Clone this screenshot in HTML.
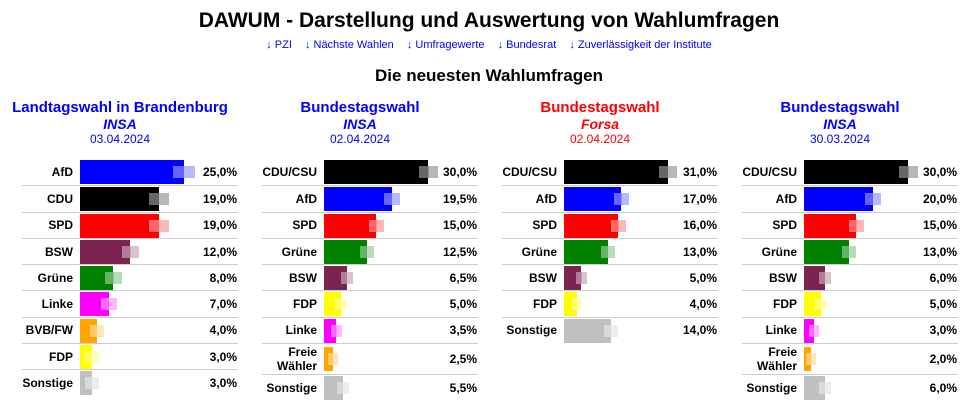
<!DOCTYPE html>
<html><head><meta charset="utf-8"><style>
body{margin:0;width:978px;height:412px;background:#fff;font-family:"Liberation Sans",Arial,sans-serif;position:relative;overflow:hidden}
.h1{position:absolute;top:9px;left:0;width:978px;text-align:center;font-weight:bold;font-size:21px;color:#000}
.lk{position:absolute;top:39px;left:0;width:978px;text-align:center;font-size:11px;color:#00f}
.lk span{margin:0 5px}
.h2{position:absolute;top:66px;left:0;width:978px;text-align:center;font-weight:bold;font-size:17px}
.p{position:absolute;top:99px;width:240px}
.t{text-align:center;font-weight:bold;font-size:15px;line-height:17px}
.i{text-align:center;font-weight:bold;font-style:italic;font-size:14px;line-height:16px}
.d{text-align:center;font-size:12px;line-height:14px}
.rows{position:absolute;top:60px;left:22px;width:216px}
.r{position:relative;height:25.3px;border-top:1px solid #ccc;font-weight:bold;font-size:12px}
.r:first-child{border-top:none;height:26.3px}
.r.tall{height:30px}
.l{position:absolute;right:161px;top:0;height:100%;display:flex;align-items:center;text-align:right;line-height:14px}
.b{position:absolute;left:var(--L);top:1px;height:24px;width:var(--w);background:var(--c)}
.tall .b{top:3px}
.o{position:absolute;left:calc(var(--L) + var(--w) - var(--o) / 2);width:var(--o);top:7px;height:12px;background:linear-gradient(90deg,rgba(255,255,255,.4) 50%,rgba(255,255,255,.72) 50%),var(--c)}
.tall .o{top:9px}
.v{position:absolute;right:1px;top:0;height:100%;display:flex;align-items:center}
.p1 .l{right:165px}
</style></head><body>
<div class="h1">DAWUM - Darstellung und Auswertung von Wahlumfragen</div>
<div class="lk"><span>↓ PZI</span> <span>↓ Nächste Wahlen</span> <span>↓ Umfragewerte</span> <span>↓ Bundesrat</span> <span>↓ Zuverlässigkeit der Institute</span></div>
<div class="h2">Die neuesten Wahlumfragen</div>

<div class="p p1" style="left:0;color:#00f">
<div class="t">Landtagswahl in Brandenburg</div><div class="i">INSA</div><div class="d">03.04.2024</div>
<div class="rows" style="color:#000;--L:58px">
<div class="r" style="--c:#00f;--w:104px;--o:22px"><span class="l">AfD</span><div class="b"></div><div class="o"></div><span class="v">25,0%</span></div>
<div class="r" style="--c:#000;--w:79px;--o:20px"><span class="l">CDU</span><div class="b"></div><div class="o"></div><span class="v">19,0%</span></div>
<div class="r" style="--c:#f00;--w:79px;--o:20px"><span class="l">SPD</span><div class="b"></div><div class="o"></div><span class="v">19,0%</span></div>
<div class="r" style="--c:#7b2450;--w:50px;--o:17px"><span class="l">BSW</span><div class="b"></div><div class="o"></div><span class="v">12,0%</span></div>
<div class="r" style="--c:#008000;--w:33px;--o:17px"><span class="l">Grüne</span><div class="b"></div><div class="o"></div><span class="v">8,0%</span></div>
<div class="r" style="--c:#f0f;--w:29px;--o:16px"><span class="l">Linke</span><div class="b"></div><div class="o"></div><span class="v">7,0%</span></div>
<div class="r" style="--c:#ffa500;--w:17px;--o:14px"><span class="l">BVB/FW</span><div class="b"></div><div class="o"></div><span class="v">4,0%</span></div>
<div class="r" style="--c:#ff0;--w:12px;--o:14px"><span class="l">FDP</span><div class="b"></div><div class="o"></div><span class="v">3,0%</span></div>
<div class="r" style="--c:#c0c0c0;--w:12px;--o:14px"><span class="l">Sonstige</span><div class="b"></div><div class="o"></div><span class="v">3,0%</span></div>
</div></div>

<div class="p" style="left:240px;color:#00f">
<div class="t">Bundestagswahl</div><div class="i">INSA</div><div class="d">02.04.2024</div>
<div class="rows" style="color:#000;--L:62px">
<div class="r" style="--c:#000;--w:104px;--o:19px"><span class="l">CDU/CSU</span><div class="b"></div><div class="o"></div><span class="v">30,0%</span></div>
<div class="r" style="--c:#00f;--w:68px;--o:16px"><span class="l">AfD</span><div class="b"></div><div class="o"></div><span class="v">19,5%</span></div>
<div class="r" style="--c:#f00;--w:52px;--o:15px"><span class="l">SPD</span><div class="b"></div><div class="o"></div><span class="v">15,0%</span></div>
<div class="r" style="--c:#008000;--w:43px;--o:14px"><span class="l">Grüne</span><div class="b"></div><div class="o"></div><span class="v">12,5%</span></div>
<div class="r" style="--c:#7b2450;--w:23px;--o:12px"><span class="l">BSW</span><div class="b"></div><div class="o"></div><span class="v">6,5%</span></div>
<div class="r" style="--c:#ff0;--w:17px;--o:12px"><span class="l">FDP</span><div class="b"></div><div class="o"></div><span class="v">5,0%</span></div>
<div class="r" style="--c:#f0f;--w:12px;--o:11px"><span class="l">Linke</span><div class="b"></div><div class="o"></div><span class="v">3,5%</span></div>
<div class="r tall" style="--c:#ffa500;--w:9px;--o:10px"><span class="l">Freie<br>Wähler</span><div class="b"></div><div class="o"></div><span class="v">2,5%</span></div>
<div class="r" style="--c:#c0c0c0;--w:19px;--o:12px"><span class="l">Sonstige</span><div class="b"></div><div class="o"></div><span class="v">5,5%</span></div>
</div></div>

<div class="p" style="left:480px;color:#f00">
<div class="t">Bundestagswahl</div><div class="i">Forsa</div><div class="d">02.04.2024</div>
<div class="rows" style="color:#000;--L:62px">
<div class="r" style="--c:#000;--w:104px;--o:18px"><span class="l">CDU/CSU</span><div class="b"></div><div class="o"></div><span class="v">31,0%</span></div>
<div class="r" style="--c:#00f;--w:57px;--o:15px"><span class="l">AfD</span><div class="b"></div><div class="o"></div><span class="v">17,0%</span></div>
<div class="r" style="--c:#f00;--w:54px;--o:15px"><span class="l">SPD</span><div class="b"></div><div class="o"></div><span class="v">16,0%</span></div>
<div class="r" style="--c:#008000;--w:44px;--o:14px"><span class="l">Grüne</span><div class="b"></div><div class="o"></div><span class="v">13,0%</span></div>
<div class="r" style="--c:#7b2450;--w:17px;--o:11px"><span class="l">BSW</span><div class="b"></div><div class="o"></div><span class="v">5,0%</span></div>
<div class="r" style="--c:#ff0;--w:13px;--o:10px"><span class="l">FDP</span><div class="b"></div><div class="o"></div><span class="v">4,0%</span></div>
<div class="r" style="--c:#c0c0c0;--w:47px;--o:14px"><span class="l">Sonstige</span><div class="b"></div><div class="o"></div><span class="v">14,0%</span></div>
</div></div>

<div class="p" style="left:720px;color:#00f">
<div class="t">Bundestagswahl</div><div class="i">INSA</div><div class="d">30.03.2024</div>
<div class="rows" style="color:#000;--L:62px">
<div class="r" style="--c:#000;--w:104px;--o:19px"><span class="l">CDU/CSU</span><div class="b"></div><div class="o"></div><span class="v">30,0%</span></div>
<div class="r" style="--c:#00f;--w:69px;--o:16px"><span class="l">AfD</span><div class="b"></div><div class="o"></div><span class="v">20,0%</span></div>
<div class="r" style="--c:#f00;--w:52px;--o:15px"><span class="l">SPD</span><div class="b"></div><div class="o"></div><span class="v">15,0%</span></div>
<div class="r" style="--c:#008000;--w:45px;--o:14px"><span class="l">Grüne</span><div class="b"></div><div class="o"></div><span class="v">13,0%</span></div>
<div class="r" style="--c:#7b2450;--w:21px;--o:12px"><span class="l">BSW</span><div class="b"></div><div class="o"></div><span class="v">6,0%</span></div>
<div class="r" style="--c:#ff0;--w:17px;--o:12px"><span class="l">FDP</span><div class="b"></div><div class="o"></div><span class="v">5,0%</span></div>
<div class="r" style="--c:#f0f;--w:10px;--o:10px"><span class="l">Linke</span><div class="b"></div><div class="o"></div><span class="v">3,0%</span></div>
<div class="r tall" style="--c:#ffa500;--w:7px;--o:10px"><span class="l">Freie<br>Wähler</span><div class="b"></div><div class="o"></div><span class="v">2,0%</span></div>
<div class="r" style="--c:#c0c0c0;--w:21px;--o:12px"><span class="l">Sonstige</span><div class="b"></div><div class="o"></div><span class="v">6,0%</span></div>
</div></div>
</body></html>
